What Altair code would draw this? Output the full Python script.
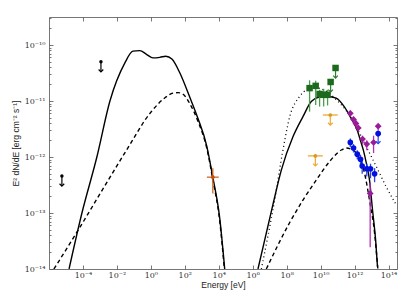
import altair as alt
import numpy as np
import pandas as pd

# ---------------- model curves : log10(E / eV) , log10(E^2 dN/dE / erg cm^-2 s^-1)
sync_tot_E = [-4.82, -4.06, -3.18, -2.41, -1.53, -1.06, -0.65, -0.24, 0.12, 0.53, 0.88, 1.24, 1.71, 2.29, 2.76, 3.29, 3.65, 4.06, 4.35]
sync_tot_F = [-14.0, -13.0, -12.0, -11.0, -10.32, -10.11, -10.10, -10.17, -10.23, -10.22, -10.20, -10.25, -10.5, -10.93, -11.3, -11.8, -12.36, -13.1, -14.0]

sync_comp_E = [-5.71, -4.33, -3.0, -1.43, 0.0, 0.8, 1.3, 1.6, 1.9, 2.3, 2.8, 3.3, 3.65, 4.06, 4.33]
sync_comp_F = [-14.0, -13.33, -12.66, -11.875, -11.2, -10.95, -10.86, -10.85, -10.88, -11.05, -11.38, -11.85, -12.4, -13.15, -14.0]

ic_tot_E = [6.31, 7.19, 7.69, 8.37, 8.96, 9.45, 9.94, 10.43, 10.92, 11.41, 11.76, 12.18, 12.35, 12.53, 12.7, 12.88, 13.06, 13.24, 13.35]
ic_tot_F = [-14.0, -12.85, -12.23, -11.64, -11.28, -11.01, -10.93, -10.92, -10.95, -11.11, -11.29, -11.54, -11.71, -11.89, -12.12, -12.41, -12.95, -13.48, -13.96]

ic_dot_E = [6.51, 7.29, 7.78, 8.18, 8.76, 9.16, 9.6, 10.3, 11.0, 11.7, 12.1, 12.7, 13.28, 13.86, 14.41]
ic_dot_F = [-14.0, -12.77, -11.88, -11.28, -10.92, -10.8, -10.76, -10.82, -11.0, -11.25, -11.46, -11.82, -12.17, -12.53, -12.83]

ic_dash_E = [6.8, 8.18, 8.96, 9.75, 10.53, 11.22, 11.51, 11.8, 12.1, 12.59, 12.88, 13.18, 13.37]
ic_dash_F = [-14.0, -13.17, -12.77, -12.41, -12.08, -11.875, -11.84, -11.86, -11.93, -12.29, -12.77, -13.36, -13.99]

# ---------------- data points (log10 values)
green_E = [9.35, 9.71, 9.94, 10.18, 10.41]
green_F = [-10.77, -10.73, -10.875, -10.89, -10.89]
green_Flo = [-11.19, -11.07, -11.1, -11.1, -11.08]
green_Fhi = [-10.63, -10.64, -10.8, -10.78, -10.8]
green_ul_E = [10.59, 10.88]
green_ul_F = [-10.66, -10.41]

mag_E = [11.75, 11.94, 12.08, 12.22, 12.47, 12.72, 12.92, 13.12]
mag_F = [-11.22, -11.33, -11.40, -11.48, -11.68, -11.77, -12.65, -11.74]
mag_Flo = [-11.28, -11.39, -11.46, -11.55, -11.78, -11.88, -13.61, -11.93]
mag_Fhi = [-11.17, -11.28, -11.35, -11.43, -11.62, -11.70, -12.46, -11.62]
mag_ul_E = [13.39]
mag_ul_F = [-11.45]

blue_E = [11.75, 11.94, 12.16, 12.35, 12.45, 12.72, 12.94, 13.18]
blue_F = [-11.74, -11.84, -11.95, -12.04, -12.16, -12.21, -12.21, -12.30]
blue_Flo = [-11.82, -11.92, -12.04, -12.14, -12.30, -12.35, -12.38, -12.45]
blue_Fhi = [-11.67, -11.77, -11.88, -11.96, -12.05, -12.12, -12.12, -12.20]
blue_ul_E = [13.39]
blue_ul_F = [-11.58]

xray_E = [3.65]
xray_Elo = [3.30]
xray_Ehi = [4.00]
xray_F = [-12.36]
xray_Flo = [-12.65]
xray_Fhi = [-12.20]

gold_ul_E = [9.69, 10.57]
gold_ul_Elo = [9.25, 10.13]
gold_ul_Ehi = [10.13, 11.01]
gold_ul_F = [-11.98, -11.25]

black_ul_E = [-5.24, -2.94]
black_ul_F = [-12.34, -10.30]

x_tick_exp = [-4, -2, 0, 2, 4, 6, 8, 10, 12, 14]
y_tick_exp = [-10, -11, -12, -13, -14]

# ---------------- helpers
SUP = str.maketrans("-0123456789", "⁻⁰¹²³⁴⁵⁶⁷⁸⁹")
x_labels = ["10" + str(e).translate(SUP) for e in x_tick_exp]
y_labels = ["10" + str(e).translate(SUP) for e in y_tick_exp]
x_major = [10.0 ** e for e in x_tick_exp]
y_major = [10.0 ** e for e in y_tick_exp]
y_minor = [k * 10.0 ** e for e in range(-14, -9) for k in range(2, 10) if k * 10.0 ** e < 10 ** -9.5]

x_label_expr = "[" + ",".join("'%s'" % s for s in x_labels) + "][round((log(datum.value)/LN10+4)/2)]"
y_label_expr = "[" + ",".join("'%s'" % s for s in y_labels) + "][round(-log(datum.value)/LN10-10)]"

xs = alt.Scale(type="log", domain=[1e-6, 10 ** 14.5], nice=False)
ys = alt.Scale(type="log", domain=[1e-14, 10 ** -9.5], nice=False)

P = lambda v: 10.0 ** np.array(v, dtype=float)
ARROW = 0.18
CHEVRON = "M-1,-1L0,0L1,-1"


def curve(name, le, lf):
    return pd.DataFrame({"series": name, "E": P(le), "F": P(lf)})


solid_df = pd.concat([curve("sync", sync_tot_E, sync_tot_F), curve("ic", ic_tot_E, ic_tot_F)])
dashed_df = pd.concat([curve("sync", sync_comp_E, sync_comp_F), curve("ic", ic_dash_E, ic_dash_F)])
dotted_df = curve("ic", ic_dot_E, ic_dot_F)

XN = lambda f="E": alt.X(f + ":Q", scale=xs, axis=None)
YN = lambda f="F": alt.Y(f + ":Q", scale=ys, axis=None)

common = dict(domain=False, grid=False, labelFlush=False)

solid = alt.Chart(solid_df).mark_line(color="black", strokeWidth=1.4, clip=True, interpolate="monotone").encode(
    x=alt.X("E:Q", scale=xs, title="Energy [eV]",
            axis=alt.Axis(orient="bottom", values=x_major, labelExpr=x_label_expr, tickSize=4, offset=-4,
                          labelPadding=2, titlePadding=1, **common)),
    y=alt.Y("F:Q", scale=ys, title="E² dN/dE [erg cm⁻² s⁻¹]",
            axis=alt.Axis(orient="left", values=y_major, labelExpr=y_label_expr, tickSize=4, offset=-4,
                          labelPadding=4, titlePadding=4, **common)),
    detail="series:N",
)

dashed = alt.Chart(dashed_df).mark_line(color="black", strokeWidth=1.4, strokeDash=[4, 3], clip=True, interpolate="monotone").encode(
    x=alt.X("E:Q", scale=xs, title=None,
            axis=alt.Axis(orient="top", values=x_major, labels=False, tickSize=4, offset=-4, **common)),
    y=alt.Y("F:Q", scale=ys, title=None,
            axis=alt.Axis(orient="right", values=y_major, labels=False, tickSize=4, offset=-4, **common)),
    detail="series:N",
)

dotted = alt.Chart(dotted_df).mark_line(color="black", strokeWidth=1.3, strokeDash=[1, 3], clip=True, interpolate="monotone").encode(
    x=XN(),
    y=alt.Y("F:Q", scale=ys, title=None,
            axis=alt.Axis(orient="left", values=y_minor, labels=False, tickSize=2, offset=-2, **common)),
)

minor_right = alt.Chart(dotted_df).mark_point(opacity=0).encode(
    x=XN(),
    y=alt.Y("F:Q", scale=ys, title=None,
            axis=alt.Axis(orient="right", values=y_minor, labels=False, tickSize=2, offset=-2, **common)),
)


def points_with_err(E, F, Flo, Fhi, mcolor, bcolor, shape, size, Elo=None, Ehi=None):
    df = pd.DataFrame({"E": P(E), "F": P(F), "Flo": P(Flo), "Fhi": P(Fhi)})
    layers = [alt.Chart(df).mark_rule(color=bcolor, strokeWidth=1.3).encode(x=XN(), y=YN("Flo"), y2="Fhi:Q")]
    if Elo is not None:
        df["Elo"] = P(Elo)
        df["Ehi"] = P(Ehi)
        layers.append(alt.Chart(df).mark_rule(color=bcolor, strokeWidth=1.3).encode(x=XN("Elo"), x2="Ehi:Q", y=YN()))
    layers.append(alt.Chart(df).mark_point(shape=shape, filled=True, color=mcolor, size=size, opacity=1).encode(x=XN(), y=YN()))
    return layers


def upper_limits(E, F, mcolor, acolor, shape, size, Elo=None, Ehi=None):
    df = pd.DataFrame({"E": P(E), "F": P(F)})
    df["Ftip"] = df["F"] * 10 ** (-ARROW)
    layers = [
        alt.Chart(df).mark_rule(color=acolor, strokeWidth=1.2).encode(x=XN(), y=YN(), y2="Ftip:Q"),
        alt.Chart(df).mark_point(shape=CHEVRON, filled=False, color=acolor, size=22, strokeWidth=1.2, opacity=1).encode(x=XN(), y=YN("Ftip")),
    ]
    if Elo is not None:
        df["Elo"] = P(Elo)
        df["Ehi"] = P(Ehi)
        layers.append(alt.Chart(df).mark_rule(color=acolor, strokeWidth=1.3).encode(x=XN("Elo"), x2="Ehi:Q", y=YN()))
    layers.append(alt.Chart(df).mark_point(shape=shape, filled=True, color=mcolor, size=size, opacity=1).encode(x=XN(), y=YN()))
    return layers


layers = [solid, dashed, dotted, minor_right]
layers += upper_limits(black_ul_E, black_ul_F, "black", "black", "circle", 12)
layers += points_with_err(xray_E, xray_F, xray_Flo, xray_Fhi, "#c0501a", "#d2691e", "circle", 14, xray_Elo, xray_Ehi)
layers += upper_limits(gold_ul_E, gold_ul_F, "#d99a1c", "#f0a830", "circle", 14, gold_ul_Elo, gold_ul_Ehi)
layers += points_with_err(green_E, green_F, green_Flo, green_Fhi, "#1c6b1c", "#4a9e4a", "square", 42)
layers += upper_limits(green_ul_E, green_ul_F, "#1c6b1c", "#2e7d2e", "square", 42)
layers += points_with_err(mag_E, mag_F, mag_Flo, mag_Fhi, "#9a1a9a", "#b52fb5", "diamond", 46)
layers += upper_limits(mag_ul_E, mag_ul_F, "#9a1a9a", "#b52fb5", "diamond", 46)
layers += points_with_err(blue_E, blue_F, blue_Flo, blue_Fhi, "#0010e0", "#2a40f0", "circle", 32)
layers += upper_limits(blue_ul_E, blue_ul_F, "#0010e0", "#2a40f0", "circle", 32)

chart = alt.layer(*layers).resolve_axis(x="independent", y="independent").properties(
    width=348, height=252,
    autosize=alt.AutoSizeParams(type="none"),
    padding={"left": 41, "top": 9, "right": 10, "bottom": 23},
).configure_view(stroke="#777", strokeWidth=1).configure_axis(
    labelFont="DejaVu Serif", labelFontSize=8, labelColor="#333",
    titleFont="Liberation Sans", titleFontSize=8.5, titleFontWeight="normal", titleColor="#222",
    tickColor="#555", tickWidth=0.8,
)

chart.save("out.html", embed_options={"renderer": "svg", "actions": False})
